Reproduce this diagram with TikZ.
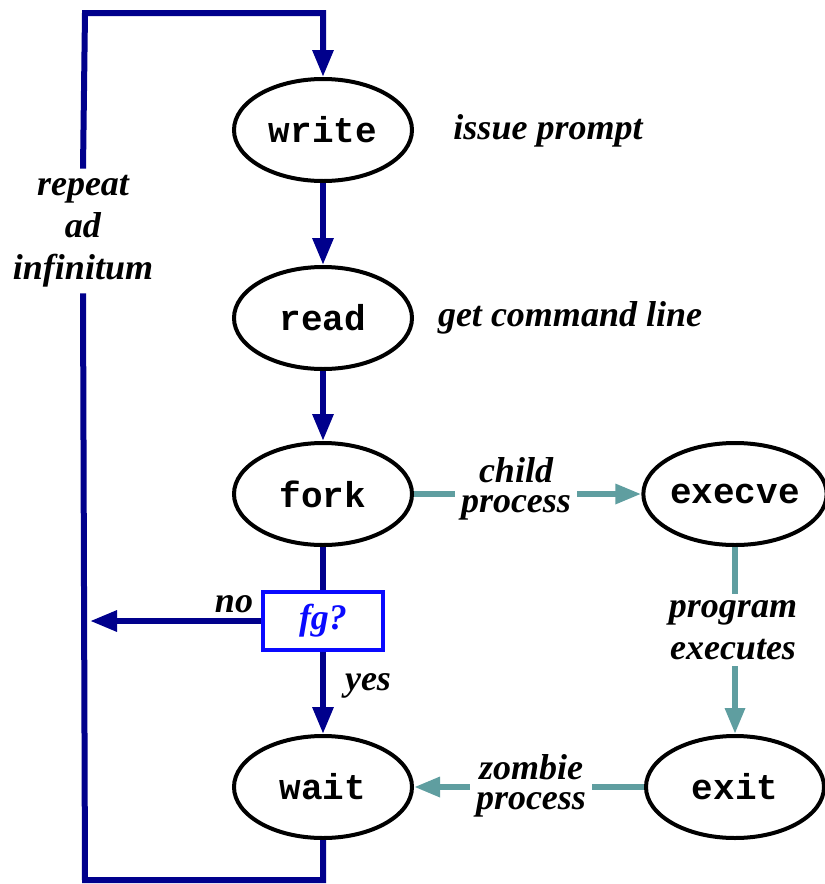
\documentclass[tikz,border=0pt]{standalone}
\usepackage{fontspec}
\setmainfont{Liberation Serif}
\setmonofont{Liberation Mono}
\usetikzlibrary{arrows.meta,positioning,shapes.geometric}
\definecolor{loopblue}{HTML}{00008C}
\definecolor{childteal}{HTML}{5F9EA0}
\definecolor{testblue}{HTML}{0A0AFF}
\tikzset{
  callbox/.style={ellipse,draw=black,fill=white,line width=2pt,
                  minimum width=89pt,minimum height=51pt,inner sep=0pt,
                  font=\fontsize{18}{20}\selectfont\ttfamily\bfseries},
  testbox/.style={rectangle,draw=testblue,fill=white,line width=2pt,
                  minimum width=60pt,minimum height=29pt,inner sep=0pt,
                  text=testblue,font=\fontsize{18}{20}\selectfont\bfseries\itshape},
  note/.style={align=center,inner sep=3pt,
               font=\fontsize{18}{21}\selectfont\bfseries\itshape},
  tightnote/.style={note,font=\fontsize{18}{15}\selectfont\bfseries\itshape},
  mainline/.style={line width=3pt,color=loopblue},
  mainarr/.style={mainline,-{Triangle[length=13.5pt,width=10pt]}},
  childline/.style={line width=3pt,color=childteal},
  childarr/.style={childline,-{Triangle[length=13pt,width=9.5pt]}}
}

\begin{document}
\begin{tikzpicture}[x=0.5pt,y=-0.5pt]
  \useasboundingbox (0,0) rectangle (825,884);

  % shell loop
  \node[callbox] (write) at (323,130) {write};
  \node[callbox] (read) at (323,318) {read};
  \node[callbox] (fork) at (323,494) {fork};
  \node[testbox] (fg) at (323,621) {fg?};
  \node[callbox] (wait) at (323,787) {wait};

  % child side
  \node[callbox] (execve) at (735,494) {execve};
  \node[callbox] (exit) at (735,787) {exit};

  % notes
  \node[note] (lprompt) at (548,131) {issue prompt};
  \node[note] (lcmd) at (570,318) {get command line};
  \node[note] (lrepeat) at (83,231) {repeat\\ad\\infinitum};
  \node[tightnote] (lchild) at (516,489) {child\\process};
  \node[note] (lprog) at (733,630) {program\\executes};
  \node[tightnote] (lzombie) at (531,786) {zombie\\process};
  \node[note] (lno) at (234,604) {no};
  \node[note] (lyes) at (368,686) {yes};

  \coordinate (topl) at (85,13);
  \coordinate (botl) at (85,880);
  \coordinate (nofree) at (90,621);

  \draw[mainarr] (write) -- (read);
  \draw[mainarr] (read) -- (fork);
  \draw[mainline] (fork) -- (fg);
  \draw[mainarr] (fg) -- (wait);
  \draw[mainarr] (fg.west) -- (nofree);
  \draw[mainline] (wait) -- (wait |- botl) -- (botl) -- (lrepeat.south);
  \draw[mainarr] (lrepeat.north) -- (topl) -- (topl -| write) -- (write);

  \draw[childline] (fork.east) -- (fork.east -| lchild.west);
  \draw[childarr] (lchild.east |- execve.west) -- (execve.west);
  \draw[childline] (execve.south) -- (execve.south |- lprog.north);
  \draw[childarr] (lprog.south -| exit.north) -- (exit.north);
  \draw[childline] (exit.west) -- (exit.west -| lzombie.east);
  \draw[childarr] (lzombie.west |- wait.east) -- (wait.east);
\end{tikzpicture}
\end{document}
